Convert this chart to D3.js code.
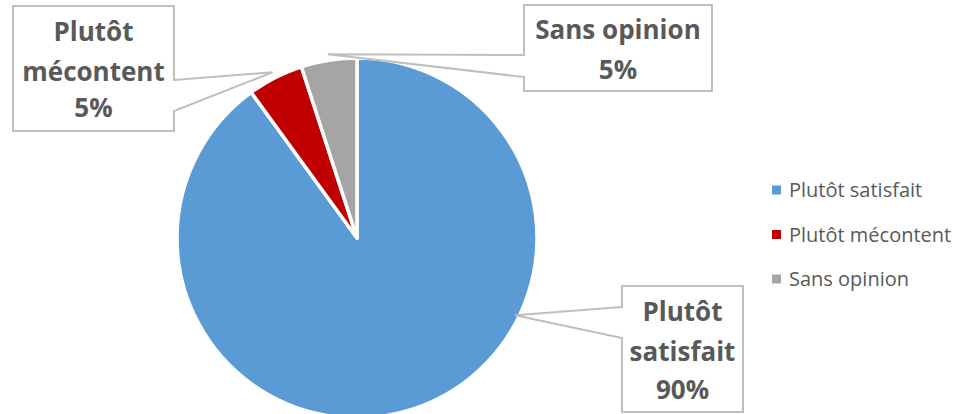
<!DOCTYPE html>
<html><head><meta charset="utf-8">
<script src="https://cdn.jsdelivr.net/npm/d3@7"></script>
<style>html,body{margin:0;padding:0;background:#fff;}svg{display:block;}</style>
</head><body>
<svg id="chart" width="961" height="414"></svg>
<script>
const categories = ["Plutôt satisfait", "Plutôt mécontent", "Sans opinion"];
const values = [90, 5, 5];
const percentLabels = ["90%", "5%", "5%"];
const colors = ["#5B9BD5", "#C00000", "#A5A5A5"];

const svg = d3.select("#chart");
const cx = 357, cy = 238, r = 180;
const g = svg.append("g").attr("transform", `translate(${cx},${cy})`);

const pie = d3.pie().sort(null).value(d => d)(values);
const arc = d3.arc().innerRadius(0).outerRadius(r);

g.selectAll("path.slice").data(pie).enter().append("path")
  .attr("class", "slice")
  .attr("d", arc)
  .attr("fill", (d, i) => colors[i])
  .attr("stroke", "#fff").attr("stroke-width", 3.5).attr("stroke-linejoin", "round");

// callout layout
const callouts = [
  { box: [622, 286, 121, 126], lines: [["Plutôt", 312], ["satisfait", 352], [percentLabels[0], 390]], side: "left", base: [307, 338], tipAngle: 116, tipR: 176 },
  { box: [13, 6, 161, 125], lines: [["Plutôt", 32], ["mécontent", 72], [percentLabels[1], 108]], side: "right", base: [80, 111], tipAngle: null, tipR: 186 },
  { box: [524, 5, 188, 86], lines: [["Sans opinion", 30], [percentLabels[2], 70]], side: "left", base: [55, 77], tipAngle: null, tipR: 186 }
];

callouts.forEach((c, i) => {
  const d = pie[i];
  const ang = c.tipAngle != null ? c.tipAngle * Math.PI / 180 : (d.startAngle + d.endAngle) / 2;
  const tx = cx + c.tipR * Math.sin(ang), ty = cy - c.tipR * Math.cos(ang);
  const [bx, by, bw, bh] = c.box;
  const ex = c.side === "left" ? bx : bx + bw;
  svg.append("rect").attr("x", bx).attr("y", by).attr("width", bw).attr("height", bh)
    .attr("fill", "#fff").attr("stroke", "#BFBFBF").attr("stroke-width", 2);
  svg.append("path")
    .attr("d", `M${ex},${c.base[0]}L${tx},${ty}L${ex},${c.base[1]}`)
    .attr("fill", "none").attr("stroke", "#BFBFBF").attr("stroke-width", 2).attr("stroke-linejoin", "miter");
  svg.append("line").attr("x1", ex).attr("x2", ex).attr("y1", c.base[0] + 1).attr("y2", c.base[1] - 1)
    .attr("stroke", "#fff").attr("stroke-width", 2.5);
  c.lines.forEach(([t, y]) => {
    svg.append("text").attr("x", bx + bw / 2).attr("y", y).attr("dy", "0.36em")
      .attr("text-anchor", "middle")
      .style("font-family", "'Open Sans', sans-serif").style("font-weight", 700)
      .style("font-size", "26px").attr("fill", "#595959").text(t);
  });
});

// legend
const legend = svg.append("g");
categories.forEach((cat, i) => {
  const y = 190 + i * 44.5;
  legend.append("rect").attr("x", 772).attr("y", y - 4.5).attr("width", 9).attr("height", 9).attr("fill", colors[i]);
  legend.append("text").attr("x", 789).attr("y", y).attr("dy", "0.35em")
    .style("font-family", "'Open Sans', sans-serif").style("font-size", "20px")
    .attr("fill", "#595959").text(cat);
});
</script>
</body></html>
